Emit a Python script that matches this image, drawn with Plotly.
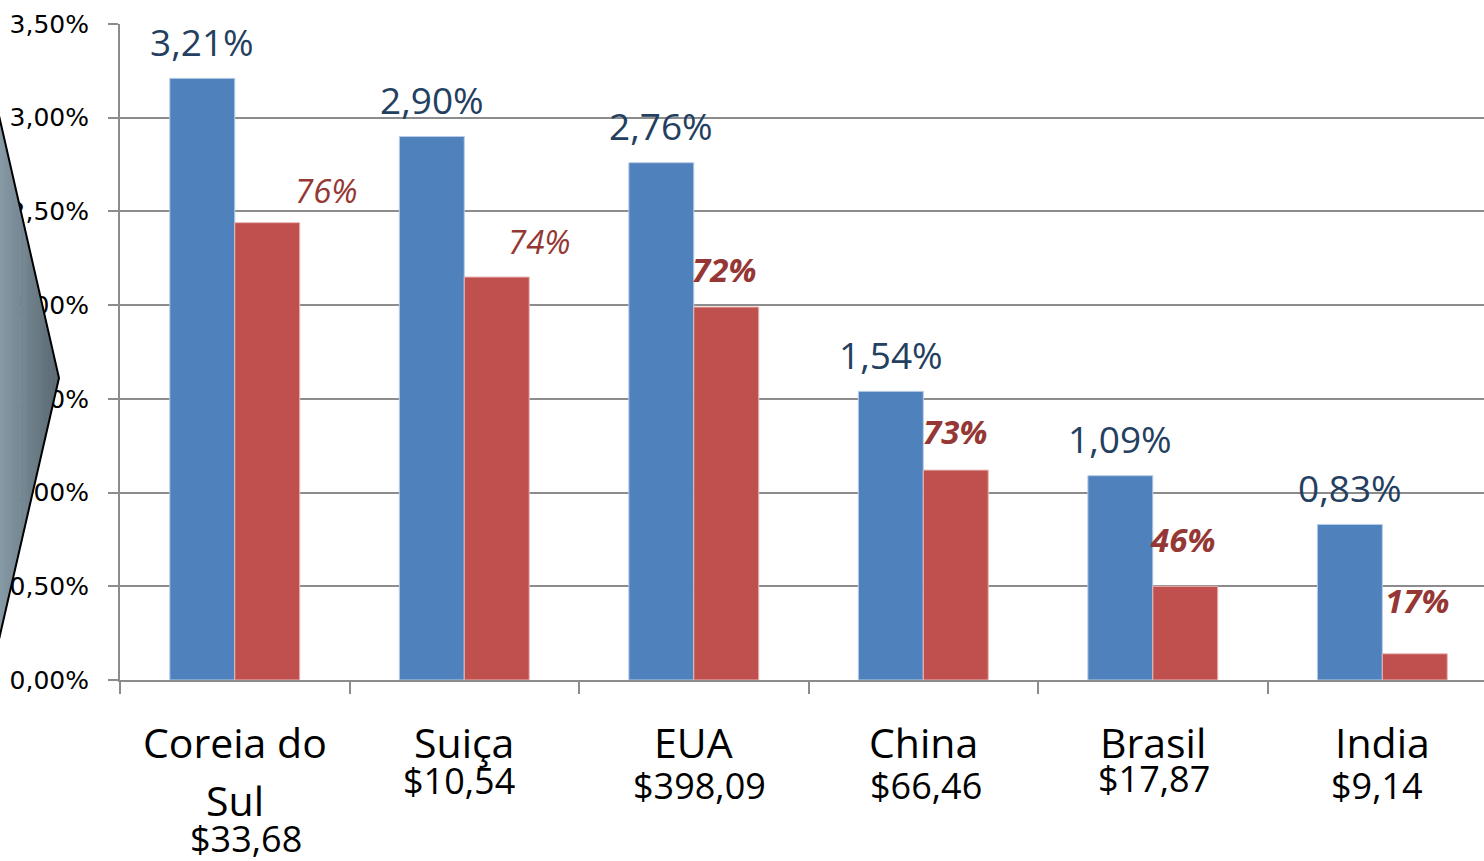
import plotly.graph_objects as go

# ---------------- data ----------------
categories = ["Coreia do Sul", "Suiça", "EUA", "China", "Brasil", "India"]
investimento_pib = [3.21, 2.90, 2.76, 1.54, 1.09, 0.83]          # blue bars (% do PIB)
investimento_privado = [2.44, 2.15, 1.99, 1.12, 0.50, 0.14]      # red bars (% axis units)
parcela_privada = ["76%", "74%", "72%", "73%", "46%", "17%"]    # red labels
valores_usd = ["$33,68", "$10,54", "$398,09", "$66,46", "$17,87", "$9,14"]
blue_labels = ["3,21%", "2,90%", "2,76%", "1,54%", "1,09%", "0,83%"]
y_ticks = [0, 0.5, 1.0, 1.5, 2.0, 2.5, 3.0, 3.5]
y_tick_text = ["0,00%", "0,50%", "1,00%", "1,50%", "2,00%", "2,50%", "3,00%", "3,50%"]

# ---------------- style ----------------
W, H = 1484, 861
ML, MR, MT, MB = 120, 0, 24, 181
PW, PH = W - ML - MR, H - MT - MB
BLUE = "#4F81BD"
RED = "#C0504D"
BLUE_TXT = "#243F60"
RED_TXT = "#953735"
GRID = "#8C8C8C"
FONT = "Open Sans"

fig = go.Figure()
fig.add_trace(go.Bar(x=categories, y=investimento_pib, marker=dict(color=BLUE, line=dict(width=1, color="#B9CDE5")),
                     name="Investimento P&D / PIB"))
fig.add_trace(go.Bar(x=categories, y=investimento_privado, marker=dict(color=RED, line=dict(width=1, color="#E6B9B8")),
                     name="Parcela privada"))

annotations = []
# blue value labels, centred over the blue bar
for c, v, t in zip(categories, investimento_pib, blue_labels):
    annotations.append(dict(x=c, y=v, xref="x", yref="y", text=t, showarrow=False,
                            xshift=-32.5, yshift=37, yanchor="middle",
                            font=dict(family=FONT, size=37, color=BLUE_TXT)))

# red share labels (manually placed in original)
red_dx = [59, 43, -2, 0, -2, 3]
red_dy = [32, 36, 38, 39, 47, 53]
red_bold = [False, False, True, True, True, True]
for c, v, t, dx, dy, b in zip(categories, investimento_privado, parcela_privada, red_dx, red_dy, red_bold):
    txt = f"<i><b>{t}</b></i>" if b else f"<i>{t}</i>"
    annotations.append(dict(x=c, y=v, xref="x", yref="y", text=txt, showarrow=False,
                            xshift=32.5 + dx, yshift=dy, yanchor="middle",
                            font=dict(family=FONT, size=33, color=RED_TXT)))

# category names (below axis)
name_lines = {"Coreia do Sul": ["Coreia do", "Sul"]}
for c in categories:
    lines = name_lines.get(c, [c])
    for i, ln in enumerate(lines):
        annotations.append(dict(x=c, y=0, xref="x", yref="y", text=ln, showarrow=False,
                                yanchor="middle", yshift=-62 - 58 * i,
                                font=dict(family=FONT, size=41, color="black")))

usd_dx = [11, -5, 6, 3, 1, -5]
usd_dy = [-158, -100, -105, -105, -98, -105]
for c, t, dx, dy in zip(categories, valores_usd, usd_dx, usd_dy):
    annotations.append(dict(x=c, y=0, xref="x", yref="y", text=t, showarrow=False,
                            xshift=dx, yshift=dy, yanchor="middle",
                            font=dict(family=FONT, size=36, color="black")))

# decorative chevron arrow on the left (gradient simulated with strips)
def px(x):
    return (x - ML) / PW

def py(y):
    return (MT + PH - y) / PH

shapes = []
x_tip, y_top, y_tip, y_bot = 59.0, 120.0, 378.0, 635.0


def top(x):
    return y_top + (y_tip - y_top) * x / x_tip


def bot(x):
    return y_bot - (y_bot - y_tip) * x / x_tip


n = 16
c0 = (0x88, 0x9C, 0xA8)
c1 = (0x58, 0x68, 0x71)
for i in range(n):
    xa = -3 + (x_tip + 3) * i / n
    xb = -3 + (x_tip + 3) * (i + 1) / n
    f = (i + 0.5) / n
    col = "rgb({},{},{})".format(*[int(round(a + (b - a) * f)) for a, b in zip(c0, c1)])
    xb2 = min(xb + 0.6, x_tip)
    path = (f"M {px(xa)} {py(top(xa))} L {px(xb2)} {py(top(xb2))} "
            f"L {px(xb2)} {py(bot(xb2))} L {px(xa)} {py(bot(xa))} Z")
    shapes.append(dict(type="path", xref="paper", yref="paper", path=path,
                       fillcolor=col, line=dict(width=0), layer="above"))
shapes.append(dict(type="path", xref="paper", yref="paper",
                   path=f"M {px(-3)} {py(top(-3))} L {px(x_tip)} {py(y_tip)} L {px(-3)} {py(bot(-3))}",
                   fillcolor="rgba(0,0,0,0)", line=dict(width=2, color="black"), layer="above"))

fig.update_layout(
    width=W, height=H,
    margin=dict(l=ML, r=MR, t=MT, b=MB),
    paper_bgcolor="white", plot_bgcolor="white",
    barmode="group", bargap=0.434, bargroupgap=0,
    showlegend=False,
    annotations=annotations,
    shapes=shapes,
    font=dict(family=FONT),
)
fig.update_xaxes(
    type="category", range=[-0.5, 5.443],
    showticklabels=False, ticks="outside", ticklen=12, tickwidth=2, tickcolor=GRID,
    tickson="boundaries", showgrid=False, showline=True, linecolor=GRID, linewidth=2,
    zeroline=False,
)
fig.update_yaxes(
    range=[0, 3.5], tickvals=y_ticks, ticktext=y_tick_text,
    ticks="outside", ticklen=10, tickwidth=2, tickcolor=GRID,
    showgrid=True, gridcolor=GRID, gridwidth=2,
    showline=True, linecolor=GRID, linewidth=2,
    zeroline=False, ticklabelstandoff=14,
    tickfont=dict(family="DejaVu Sans", size=25, color="black"),
)

fig.write_html("out.html", config={"displayModeBar": False},
               post_script="document.body.style.margin='0';document.body.style.overflow='hidden';")
